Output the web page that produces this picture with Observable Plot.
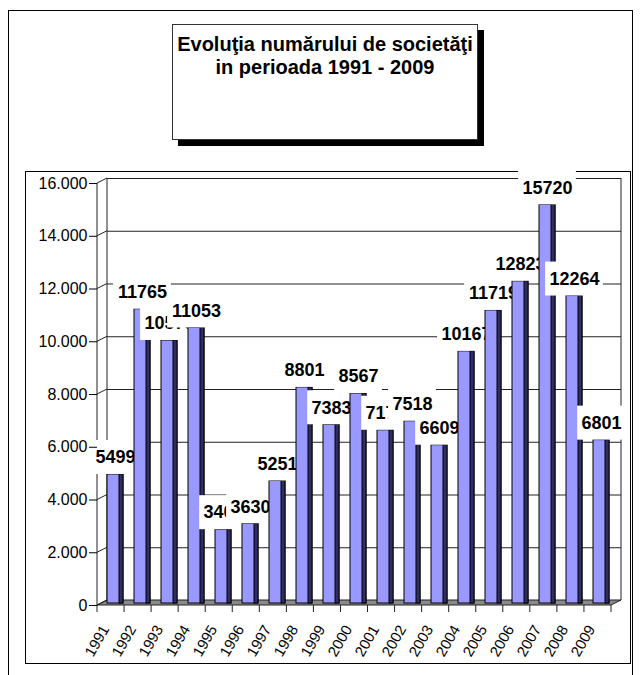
<!DOCTYPE html>
<html><head><meta charset="utf-8">
<script src="https://cdn.jsdelivr.net/npm/d3@7"></script>
<script src="https://cdn.jsdelivr.net/npm/@observablehq/plot@0.6"></script>
<style>
html,body{margin:0;padding:0;width:640px;height:675px;overflow:hidden;background:#fff;}
#page{position:relative;width:640px;height:675px;font-family:"Liberation Sans",Arial,sans-serif;}
#outer{position:absolute;left:8px;top:10px;width:625px;height:700px;border:1px solid #000;box-sizing:border-box;}
#titlebox{position:absolute;left:172px;top:24px;width:306px;height:116px;border:1px solid #333;box-sizing:border-box;background:#fff;box-shadow:6px 6px 0 #000;text-align:center;font-weight:bold;font-size:20px;line-height:23.3px;padding-top:8px;color:#000;}
#plotbox{position:absolute;left:25px;top:171px;width:606px;height:493px;border:1px solid #000;box-sizing:border-box;}
#chart{position:absolute;left:0;top:0;}
</style></head>
<body>
<div id="page">
  <div id="outer"></div>
  <div id="titlebox">Evoluţia numărului de societăţi<br>in perioada 1991 - 2009</div>
  <div id="plotbox"></div>
  <div id="chart"></div>
</div>
<script>
const years = ["1991","1992","1993","1994","1995","1996","1997","1998","1999","2000","2001","2002","2003","2004","2005","2006","2007","2008","2009"];
const values = [5499, 11765, 10578, 11053, 3405, 3630, 5251, 8801, 7383, 8567, 7175, 7518, 6609, 10167, 11719, 12823, 15720, 12264, 6801];
const yTicks = [0, 2000, 4000, 6000, 8000, 10000, 12000, 14000, 16000];

const data = years.map((year, i) => ({year, value: values[i]}));
const fmt = d => d3.format(",")(d).replace(/,/g, ".");

const DX = 10, DY = -5;

function deco(index, scales, values_, dims) {
  const {width, marginLeft: ml, marginRight: mr, marginTop: mt, height, marginBottom: mb} = dims;
  const ns = "http://www.w3.org/2000/svg";
  const g = document.createElementNS(ns, "g");
  const Y = scales && scales.y ? scales.y : null;
  const y0 = Y ? Y(0) : height - mb;
  const yT = Y ? Y(yTicks[yTicks.length - 1]) : mt;
  const x0 = ml, x1 = width - mr;
  function el(tag, attrs) { const e = document.createElementNS(ns, tag); for (const k in attrs) e.setAttribute(k, attrs[k]); g.appendChild(e); return e; }
  el("polygon", {points: `${x0},${y0} ${x1},${y0} ${x1 + DX},${y0 + DY} ${x0 + DX},${y0 + DY}`, fill: "#8a8a8a", stroke: "#222", "stroke-width": 1});
  el("line", {x1: x0 + DX, x2: x0 + DX, y1: yT + DY, y2: y0 + DY, stroke: "#222"});
  el("line", {x1: x1 + DX, x2: x1 + DX, y1: yT + DY, y2: y0 + DY, stroke: "#222"});
  el("line", {x1: x0, x2: x0, y1: yT, y2: y0, stroke: "#222"});
  for (const t of yTicks) {
    const yy = Y ? Y(t) : y0 - (y0 - yT) * t / yTicks[yTicks.length - 1];
    el("line", {x1: x0, y1: yy, x2: x0 + DX, y2: yy + DY, stroke: "#222"});
  }
  const n = years.length, step = (x1 - x0) / n;
  for (let k = 0; k <= n; k++) el("line", {x1: x0 + k * step, x2: x0 + k * step, y1: y0, y2: y0 + 7, stroke: "#222"});
  return g;
}

const barMarks = data.flatMap(d => {
  const w = String(d.value).length * 10 + 8;
  const inset = -(w - 16.2) / 2;
  return [
    Plot.barY([d], {x: "year", y: "value", fill: "#9999ff", stroke: "#000", strokeWidth: 1, insetTop: 14, insetBottom: 2, dx: 4}),
    Plot.barY([d], {x: "year", y: "value", fill: "#2e2e62", stroke: "#000", strokeWidth: 1, insetTop: 14, insetBottom: 2, insetLeft: 12, dx: 4}),
    Plot.barY([d], {x: "year", y1: "value", y2: "value", fill: "white", insetTop: -20, insetBottom: -14, insetLeft: inset, insetRight: inset, dx: 4}),
    Plot.text([d], {x: "year", y: "value", text: r => String(r.value), dx: 4, dy: -3, fontSize: 18, fontWeight: "bold", fill: "#000"})
  ];
});

const hasAxisMarks = typeof Plot.axisX === "function";
const axisMarks = hasAxisMarks ? [
  Plot.axisY({ticks: yTicks, tickFormat: fmt, tickSize: 8, tickPadding: 2, fontSize: 16, label: null, stroke: "#000"}),
  Plot.axisX({tickSize: 0, tickRotate: -60, tickPadding: 21, dx: -6, fontSize: 15, label: null})
] : [];

const chart = Plot.plot({
  width: 640,
  height: 675,
  marginLeft: 97,
  marginRight: 29,
  marginTop: 183,
  marginBottom: 70,
  style: {fontFamily: "'Liberation Sans', Arial, sans-serif", fontSize: "15px", background: "transparent", overflow: "visible", color: "#000"},
  x: Object.assign({domain: years, paddingInner: 0.4, paddingOuter: 0.2, align: 0.5, label: null},
    hasAxisMarks ? {} : {tickSize: 0, tickRotate: -60, tickPadding: 21}),
  y: Object.assign({domain: [0, 16000], label: null},
    hasAxisMarks ? {} : {ticks: yTicks, tickFormat: fmt, tickSize: 8, tickPadding: 2}),
  marks: [
    Plot.ruleY(yTicks, {dx: DX, dy: DY, stroke: "#222"}),
    deco,
    ...barMarks,
    ...axisMarks
  ]
});
document.getElementById("chart").appendChild(chart);
</script>
</body></html>
